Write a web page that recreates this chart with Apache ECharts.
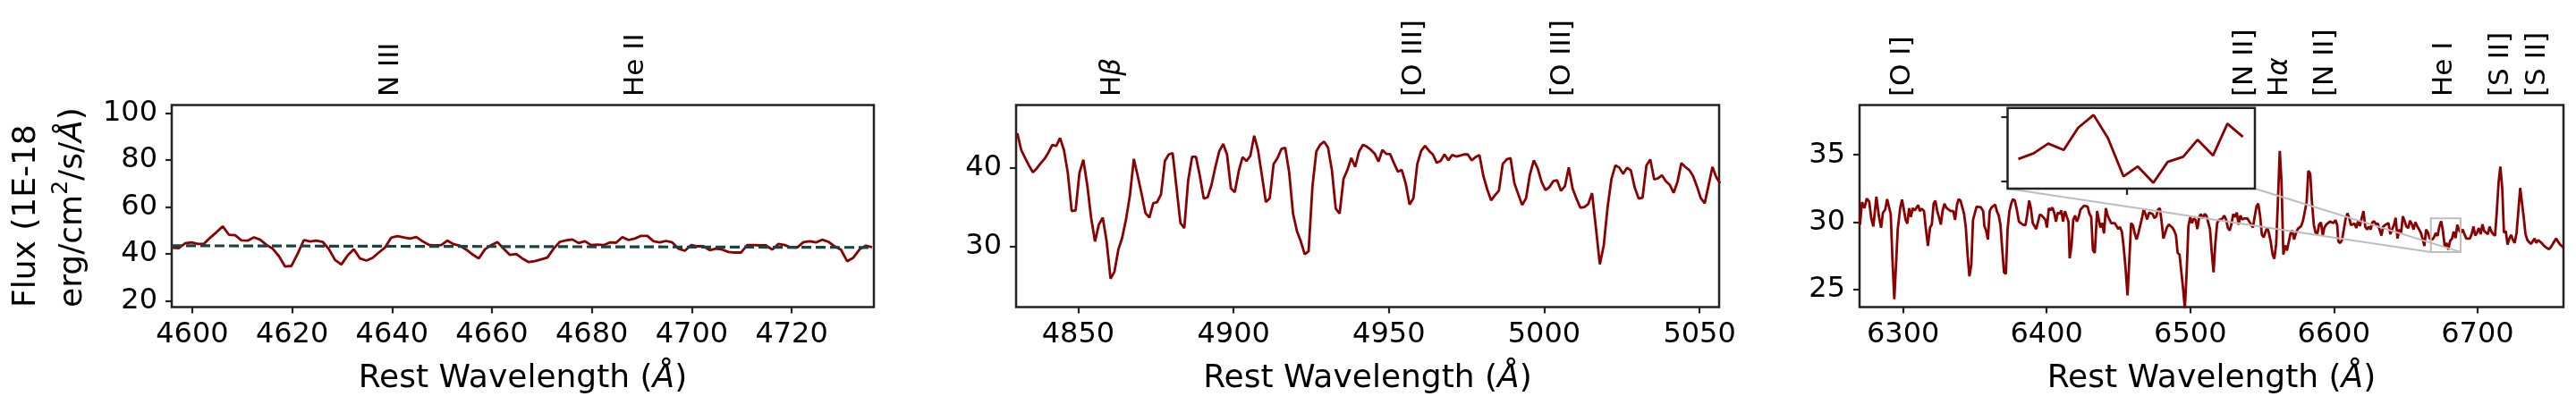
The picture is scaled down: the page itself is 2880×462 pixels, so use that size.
<!DOCTYPE html>
<html>
<head>
<meta charset="utf-8">
<script src="https://cdn.jsdelivr.net/npm/echarts@6/dist/echarts.min.js"></script>
<style>
  html, body { margin: 0; padding: 0; background: #fff; }
  #chart { width: 2880px; height: 462px; }
</style>
</head>
<body>
<div id="chart"></div>
<script>
const FONT = "DejaVu Sans";

// ---- data ----
// panel 1: He II region, sampled every 1.25 A from lam1Start
const lam1Start = 4596.1;
const lamStep = 1.25;
const flux1 = [42.67,42.54,44.57,44.95,44.32,44.32,46.98,49.27,51.81,48.25,48.00,45.84,45.71,47.11,46.10,43.94,42.29,39.11,34.67,34.92,
  40.13,45.97,45.33,45.71,45.21,42.16,37.46,35.56,39.37,42.03,38.10,37.21,38.35,40.63,42.79,46.98,47.62,47.11,46.60,47.24,
  45.46,43.94,43.68,43.81,45.71,44.19,43.56,41.90,39.87,38.10,42.03,43.81,45.08,42.29,39.62,40.00,38.10,
  36.57,36.95,37.71,38.48,42.29,45.21,45.84,46.22,44.70,45.46,43.81,44.06,43.81,44.95,44.83,47.24,45.97,46.60,47.75,47.75,
  45.46,44.95,45.59,44.95,42.29,41.40,43.81,43.30,43.30,41.65,42.29,41.90,40.89,40.63,40.63,43.81,43.81,43.68,43.68,41.90,
  44.32,43.81,42.79,42.79,45.08,45.46,44.95,46.10,45.21,43.30,41.90,36.95,38.48,42.03,43.56,42.92];
// dashed continuum in panel 1 (two end points)
const contLam = [4595.9, 4736.4];
const contFlux = [43.55, 42.8];

// panel 2: H-beta / [O III] region
const lam2Start = 4830.4;
const flux2 = [44.39,42.27,41.25,40.30,39.43,39.92,40.57,41.14,41.93,42.92,42.77,43.79,42.27,39.36,34.51,34.58,39.36,41.02,37.84,33.67,
  30.64,32.80,33.67,30.64,25.91,26.78,29.58,31.10,33.48,36.52,41.14,38.98,36.70,34.24,33.67,35.49,35.64,36.63,40.87,41.70,
  41.86,37.46,32.99,32.35,38.41,41.40,41.40,38.98,36.10,36.25,37.84,40.11,42.12,43.03,41.70,37.39,36.89,39.55,41.36,40.87,
  41.52,44.09,42.20,38.98,35.64,36.14,40.49,41.25,42.39,42.54,39.43,34.17,31.97,30.64,29.02,29.39,37.65,42.08,42.95,43.33,
  42.58,39.73,34.81,34.20,38.60,39.73,41.25,40.11,42.08,42.92,42.69,
  42.31,41.82,40.80,42.27,41.78,41.74,40.57,39.51,39.73,38.03,35.34,36.14,40.49,42.16,42.80,42.16,41.70,40.64,40.87,41.70,
  40.98,41.63,41.44,41.55,41.70,41.70,40.95,41.36,41.63,38.98,37.27,35.87,36.52,37.08,40.49,41.06,41.25,38.03,36.63,35.27,
  36.14,39.17,40.95,39.92,38.22,37.16,37.54,38.30,38.41,37.08,37.65,40.04,37.35,36.06,34.92,35.00,35.38,36.78,32.35,27.73,
  30.08,35.00,38.60,40.30,40.04,39.24,40.00,39.66,37.46,36.10,36.21,40.30,41.06,38.52,38.67,39.05,38.30,37.84,36.82,38.22,
  40.61,40.11,39.73,38.98,37.65,36.14,35.49,37.77,40.11,38.79,38.03];

// panel 3: H-alpha / [S II] region
const lam3 = [6270.0,6271.4,6273.1,6274.7,6276.4,6277.9,6279.3,6280.1,6281.4,6283.1,6284.7,6286.0,6287.6,6288.9,6290.1,6291.4,6292.6,6293.9,6295.1,6296.3,
  6298.0,6299.3,6300.5,6301.8,6303.0,6304.2,6305.5,6306.7,6308.0,6309.2,6310.5,6311.7,6313.0,6314.6,6315.9,6317.3,6318.8,6320.0,6321.3,6322.5,
  6323.8,6325.0,6326.3,6327.5,6328.8,6330.0,6331.7,6333.3,6335.0,6336.2,6337.5,6338.7,6340.0,6341.2,6342.5,6343.7,6345.0,6346.2,6347.5,6348.7,
  6349.9,6351.2,6352.4,6354.1,6355.8,6356.6,6357.8,6359.1,6360.3,6361.6,6362.8,6364.1,6365.3,6366.6,6367.8,6369.1,6370.3,6371.6,6372.8,6374.0,
  6375.3,6376.5,6377.8,6379.0,6380.7,6382.4,6384.0,6385.3,6386.5,6387.8,6389.0,6390.3,6391.5,6392.7,6394.0,6395.2,6396.5,6397.7,6399.0,6400.2,
  6401.5,6402.7,6404.0,6405.2,6406.5,6407.7,6409.0,6410.2,6411.4,6412.7,6413.9,6415.2,6416.0,6417.3,6418.5,6419.8,6421.0,6422.3,6423.5,6424.7,
  6426.0,6427.2,6428.5,6429.7,6431.0,6432.2,6433.5,
  6435.1,6436.2,6437.4,6438.7,6439.9,6441.2,6442.4,6443.6,6444.9,6446.1,6447.4,6448.6,6449.9,6451.1,6452.4,6453.6,6454.9,6456.3,6457.6,6458.8,
  6460.1,6461.3,6462.6,6463.8,6465.0,6466.3,6467.5,6468.8,6470.0,6471.3,6472.5,6473.8,6475.0,6476.3,6477.5,6478.8,6480.0,6481.3,6482.5,6483.7,
  6485.0,6486.2,6487.5,6488.7,6490.0,6491.2,6492.5,6493.7,6495.0,6496.2,6497.5,6498.7,6500.0,6501.2,6502.4,6503.7,6504.9,6506.2,6507.4,6508.7,
  6509.9,6511.2,6512.4,6513.7,6514.9,6516.2,6517.4,6518.7,6519.9,6521.1,6522.4,6523.6,6524.9,6526.1,6527.4,6528.6,6529.9,6531.1,6532.4,6533.6,
  6534.9,6536.1,6537.4,6538.6,6539.8,6541.1,6542.3,6543.6,6544.8,6546.1,6547.3,6548.6,6549.8,6551.1,6552.3,6553.6,6554.8,6556.1,6557.3,6558.5,
  6559.8,6561.0,6562.3,6563.5,6564.8,6566.0,6567.3,6568.5,6569.8,6571.0,6572.3,6573.5,6574.8,6576.0,6577.2,6578.5,6579.7,6581.0,6582.2,6583.5,
  6584.7,6586.0,6587.2,6588.5,6589.7,6591.0,6592.2,6593.4,6594.7,6595.9,6597.2,6598.4,6599.7,
  6601.1,6602.3,6603.1,6604.4,6605.6,6606.9,6608.1,6609.4,6610.6,6611.9,6613.1,6614.4,6615.6,6616.9,6618.1,6619.4,6620.6,6621.8,6623.1,6624.3,
  6625.6,6626.8,6628.1,6629.3,6630.6,6631.8,6633.1,6634.3,6635.6,6636.8,6638.0,6639.3,6640.5,6641.8,6643.0,6644.3,6645.5,6646.8,6648.0,6649.3,
  6650.5,6651.8,6653.0,6654.3,6655.5,6656.7,6658.0,6659.2,6660.5,6661.7,6663.0,6664.2,6665.5,6666.7,
  6668.4,6669.7,6670.9,6672.2,6673.4,6674.7,6675.9,6677.2,6678.4,6679.7,6680.9,6682.2,6683.4,6684.7,6685.9,6687.2,
  6688.4,6689.7,6690.9,6692.2,6693.4,6694.7,6695.9,6697.2,6698.4,6699.7,6700.9,6702.2,6703.4,6704.7,6705.9,6707.2,6708.4,6709.7,6710.9,6712.2,
  6713.4,6714.7,6715.9,6717.2,6718.4,6719.7,6720.9,6722.2,6723.4,6724.7,6725.9,6727.2,6728.4,6729.7,6730.9,6732.2,6733.4,6734.7,6735.9,6737.2,
  6738.4,6739.7,6740.9,6742.2,6743.4,6744.7,6745.9,6747.2,6748.4,6749.7,6750.9,6752.2,6753.4,6754.7,6755.9,6757.2,6758.4,6759.7];
const flux3 = [29.82,31.49,31.04,31.76,31.53,30.27,29.67,29.60,31.89,30.49,29.58,30.71,30.93,31.71,31.76,30.60,27.27,24.27,26.82,29.49,
  31.04,31.67,31.71,30.16,29.89,31.04,30.38,31.04,30.87,31.04,31.27,30.82,31.00,30.82,29.49,28.24,29.60,29.82,31.38,31.60,
  30.82,30.38,29.82,30.82,31.38,31.09,30.93,30.82,30.82,30.16,31.27,31.71,31.60,31.49,30.60,29.60,27.49,25.98,26.82,30.16,
  30.27,31.16,31.22,31.11,30.82,29.71,29.38,28.71,30.82,31.09,31.09,31.31,30.82,30.49,29.82,27.93,26.27,26.16,29.49,30.78,
  31.38,31.71,31.60,31.04,30.04,29.89,29.78,29.80,30.60,31.60,31.04,29.93,29.80,29.49,30.04,30.56,30.49,30.49,30.20,29.60,
  31.04,30.89,31.09,30.71,30.04,30.71,30.60,30.87,30.04,30.82,30.87,30.04,27.31,28.27,30.16,30.49,30.04,30.38,30.93,30.93,
  31.22,31.31,31.16,30.64,30.38,27.93,27.71,
  30.82,30.93,29.60,29.93,29.16,31.04,30.49,30.60,29.93,29.89,29.93,29.82,29.49,29.64,29.27,28.16,26.60,24.56,27.27,29.93,
  29.76,29.16,28.71,29.16,29.27,30.27,30.93,30.60,30.20,30.71,30.82,30.60,30.31,30.42,30.93,31.04,30.04,28.78,28.82,29.60,
  29.82,29.71,29.60,29.38,29.04,27.71,27.60,27.49,25.04,23.60,26.38,29.71,30.38,29.93,30.27,30.16,29.49,30.38,30.60,30.27,
  30.60,30.49,30.38,29.49,27.82,26.27,28.38,29.93,30.16,30.04,30.27,30.49,30.20,29.60,29.38,29.82,30.60,30.38,30.71,29.82,
  30.49,30.20,30.27,30.16,30.27,30.04,29.93,29.60,30.38,31.16,31.38,30.49,29.09,28.87,29.27,29.60,29.16,28.49,27.60,27.27,
  28.38,31.49,35.29,33.04,27.60,28.27,27.89,28.49,29.16,29.38,28.71,29.16,29.49,29.38,29.71,30.11,30.16,31.49,33.82,33.60,
  31.49,29.82,29.22,29.16,29.82,29.98,29.00,29.60,29.82,29.93,30.04,30.16,29.93,
  30.15,29.78,28.56,28.45,28.67,29.45,30.22,30.66,30.33,29.78,29.67,29.89,29.56,30.11,29.71,30.33,30.82,29.67,29.45,29.67,
  29.45,30.00,30.06,29.84,29.89,29.45,29.00,29.67,29.78,29.89,29.93,29.11,29.45,29.78,30.33,28.78,29.45,29.22,30.44,30.06,
  29.67,29.56,30.11,29.84,29.45,30.00,29.71,29.71,29.22,28.78,28.23,29.45,29.22,28.78,
  28.70,28.88,29.18,28.98,29.67,30.07,29.35,28.16,28.47,27.96,28.61,28.77,29.30,28.81,29.80,29.39,
  29.22,29.45,29.11,28.78,28.83,28.78,29.11,29.67,29.00,29.22,29.56,29.11,29.84,29.33,29.22,29.11,29.67,29.29,29.11,29.00,
  30.77,32.98,34.13,32.54,29.22,29.33,28.34,28.78,29.05,28.67,28.45,29.22,30.77,32.54,32.65,30.33,29.11,28.67,28.52,28.38,
  28.56,28.78,28.45,28.67,28.78,28.45,28.29,28.16,28.12,27.98,28.12,28.34,28.56,28.78,28.67,28.38,28.29,28.12];

// axis ranges and ticks
const xRange = [[4595.9, 4736.45], [4830.0, 5056.3], [6269.7, 6759.85]];
const yRange = [[17.4, 103.5], [22.3, 47.98], [23.69, 38.70]];
const xTicks = [[4600, 4620, 4640, 4660, 4680, 4700, 4720], [4850, 4900, 4950, 5000, 5050], [6300, 6400, 6500, 6600, 6700]];
const yTicks = [[20, 40, 60, 80, 100], [30, 40], [25, 30, 35]];

// zoomed inset region (panel 3)
const insetLam = [6667.5, 6688.2];
const insetFlux = [27.78, 30.29];
const insetXTicks = [6677.5];
const insetYTicks = [28, 30];

// emission line labels
const lineNames = [["N III", "He II"], ["H{i|β}", "[O III]", "[O III]"],
  ["[O I]", "[N II]", "H{i|α}", "[N II]", "He I", "[S II]", "[S II]"]];
const lineLam = [[4639.8, 4688.8], [4861.0, 4958.1, 5006.0],
  [6299.4, 6538.2, 6562.7, 6594.4, 6677.0, 6716.0, 6741.6]];

// ---- chart ----
const RED = "#8b0000";
const INK = "#222";

const series1 = flux1.map((f, i) => [lam1Start + i * lamStep, f]);
const series2 = flux2.map((f, i) => [lam2Start + i * lamStep, f]);
const series3 = flux3.map((f, i) => [lam3[i], f]);
const insetData = series3.filter(d => d[0] > insetLam[0] && d[0] < insetLam[1]);
const contData = contLam.map((l, i) => [l, contFlux[i]]);

const grids = [
  { left: 192, top: 117.5, width: 785, height: 226 },
  { left: 1136, top: 117.5, width: 786, height: 226 },
  { left: 2079, top: 117.5, width: 787, height: 226 }
].map(g => Object.assign(g, { show: true, borderColor: INK, borderWidth: 2.5, backgroundColor: "transparent" }));
grids.push({ left: 2244.5, top: 120.7, width: 276.5, height: 90.3, show: true,
  borderColor: INK, borderWidth: 2.5, backgroundColor: "#fff", z: 10 });

const tickStyle = { color: INK, width: 2.2 };
const labelFont = { color: "#000", fontSize: 32, fontFamily: FONT };

function xAxis(i) {
  return {
    type: "value", gridIndex: i, min: xRange[i][0], max: xRange[i][1],
    axisLine: { show: false }, splitLine: { show: false },
    axisTick: { show: true, length: 7, lineStyle: tickStyle, customValues: xTicks[i] },
    axisLabel: Object.assign({ customValues: xTicks[i], margin: 15, formatter: v => String(v) }, labelFont),
    name: "Rest Wavelength ({i|Å})", nameLocation: "middle", nameGap: 62,
    nameTextStyle: { color: "#000", fontSize: 36, fontFamily: FONT,
      rich: { i: { fontStyle: "italic", fontSize: 36, fontFamily: FONT, color: "#000" } } }
  };
}
function yAxis(i) {
  return {
    type: "value", gridIndex: i, min: yRange[i][0], max: yRange[i][1],
    axisLine: { show: false }, splitLine: { show: false },
    axisTick: { show: true, length: 7, lineStyle: tickStyle, customValues: yTicks[i] },
    axisLabel: Object.assign({ customValues: yTicks[i], margin: 16, formatter: v => String(v) }, labelFont)
  };
}

const xAxes = [0, 1, 2].map(xAxis);
const yAxes = [0, 1, 2].map(yAxis);
xAxes.push({ type: "value", gridIndex: 3, min: insetLam[0], max: insetLam[1], z: 11,
  axisLine: { show: false }, splitLine: { show: false }, axisLabel: { show: false },
  axisTick: { show: true, length: 7, lineStyle: tickStyle, customValues: insetXTicks } });
yAxes.push({ type: "value", gridIndex: 3, min: insetFlux[0], max: insetFlux[1], z: 11,
  axisLine: { show: false }, splitLine: { show: false }, axisLabel: { show: false },
  axisTick: { show: true, length: 7, lineStyle: tickStyle, customValues: insetYTicks } });

function spec(axis, data, z) {
  return { type: "line", xAxisIndex: axis, yAxisIndex: axis, data: data, symbol: "none",
    showSymbol: false, lineStyle: { color: RED, width: 2.8 }, z: z, silent: true };
}

const chart = echarts.init(document.getElementById("chart"));
chart.setOption({
  animation: false,
  backgroundColor: "#fff",
  textStyle: { fontFamily: FONT },
  grid: grids,
  xAxis: xAxes,
  yAxis: yAxes,
  series: [
    spec(0, series1, 3),
    { type: "line", xAxisIndex: 0, yAxisIndex: 0, data: contData, symbol: "none", silent: true,
      lineStyle: { color: "#174545", width: 3.2, type: [11, 5] }, z: 4 },
    spec(1, series2, 3),
    spec(2, series3, 3),
    spec(3, insetData, 12)
  ]
});

// ---- overlays placed through the axes ----
const px = (grid, x, y) => chart.convertToPixel({ gridIndex: grid }, [x, y]);
const graphics = [];

lineNames.forEach((names, g) => {
  names.forEach((n, k) => {
    const p = px(g, lineLam[g][k], yRange[g][1]);
    graphics.push({
      type: "text", x: p[0], y: 108, rotation: Math.PI / 2, z: 5, silent: true,
      style: { text: n, fill: "#000", fontSize: 31, fontFamily: FONT,
        align: "left", verticalAlign: "middle", textAlign: "left", textVerticalAlign: "middle",
        rich: { i: { fontStyle: "italic", fontSize: 31, fontFamily: FONT, fill: "#000" } } }
    });
  });
});

// y label of panel 1
graphics.push({
  type: "text", x: 4, y: 344, rotation: Math.PI / 2, z: 5, silent: true,
  style: { text: "Flux (1E-18\nerg/cm{sup|2}/s/{i|Å})", fill: "#000", fontSize: 36, fontFamily: FONT,
    lineHeight: 52, align: "left", verticalAlign: "top", textAlign: "left", textVerticalAlign: "top",
    rich: {
      sup: { fontSize: 25, lineHeight: 30, verticalAlign: "top", fontFamily: FONT, fill: "#000" },
      i: { fontStyle: "italic", fontSize: 36, lineHeight: 52, fontFamily: FONT, fill: "#000" }
    } }
});

// inset marker box and connectors
const rTL = px(2, insetLam[0], insetFlux[1]);
const rBR = px(2, insetLam[1], insetFlux[0]);
const iBL = px(3, insetLam[0], insetFlux[0]);
const iBR = px(3, insetLam[1], insetFlux[0]);
const GREY = "#bdbdbd";
graphics.push({ type: "rect", z: 5, silent: true,
  shape: { x: rTL[0], y: rTL[1], width: rBR[0] - rTL[0], height: rBR[1] - rTL[1] },
  style: { fill: "none", stroke: GREY, lineWidth: 2 } });
graphics.push({ type: "line", z: 5, silent: true,
  shape: { x1: iBL[0], y1: iBL[1], x2: rTL[0], y2: rBR[1] }, style: { stroke: GREY, lineWidth: 2 } });
graphics.push({ type: "line", z: 5, silent: true,
  shape: { x1: iBR[0], y1: iBR[1], x2: rBR[0], y2: rBR[1] }, style: { stroke: GREY, lineWidth: 2 } });

chart.setOption({ graphic: graphics });
</script>
</body>
</html>
